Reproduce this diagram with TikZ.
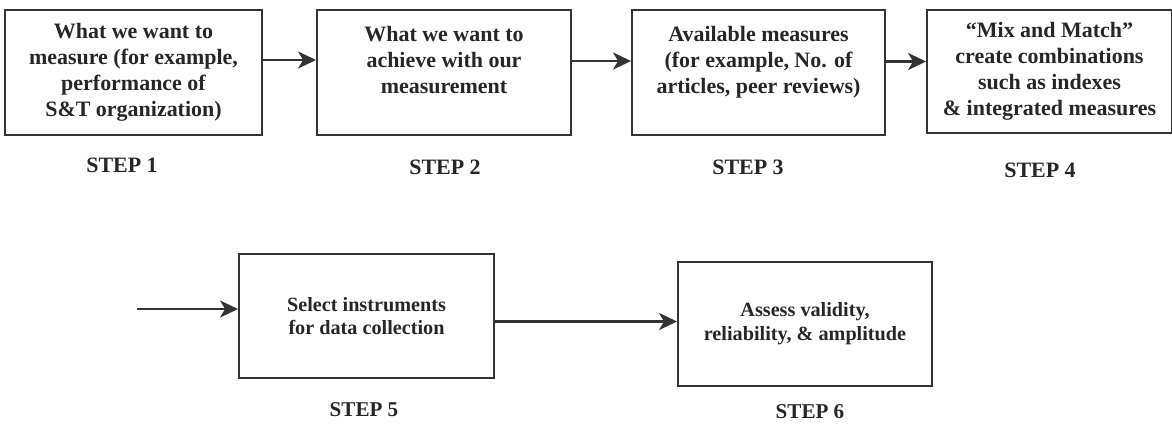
\documentclass[tikz,border=0pt]{standalone}
\usepackage{fontspec}
\setmainfont{Liberation Serif}
\usepackage{xcolor}
\usetikzlibrary{arrows.meta, positioning, calc}
\definecolor{inkgray}{HTML}{262626}
\definecolor{linegray}{HTML}{333333}

\begin{document}
\begin{tikzpicture}[
  x=0.02cm, y=-0.02cm,
  box/.style={rectangle, draw=linegray, line width=1.1pt, inner sep=2pt,
    minimum width=#1, minimum height=2.5cm, align=center, text=inkgray,
    font=\fontsize{12.5}{14.8}\selectfont\bfseries},
  lowbox/.style={box=#1, minimum height=2.48cm,
    font=\fontsize{11.5}{13.5}\selectfont\bfseries},
  steplabel/.style={text=inkgray, font=\fontsize{12.5}{14}\selectfont\bfseries},
  flow/.style={-{Stealth[length=3.6mm, width=3.4mm, inset=1mm]}, line width=1.3pt, linegray},
]
  \useasboundingbox (0,0) rectangle (1172,424);

  % top row
  \node[box=5.14cm] (what) at (133.5,72.5) {What we want to\\measure (for example,\\performance of\\S\&T organization)};
  \node[box=5.08cm] (goal) at (444,72.5) {What we want to\\achieve with our\\measurement\\\mbox{}};
  \node[box=5.06cm] (avail) at (758.5,72.5) {Available measures\\(for example, No. of\\articles, peer reviews)\\\mbox{}};
  \node[box=4.9cm, minimum height=2.46cm] (mix) at (1049.5,71.5) {``Mix and Match''\\create combinations\\such as indexes\\\& integrated measures};

  \node[steplabel] (lab1) at (122,165) {STEP 1};
  \node[steplabel] (lab2) at (445,167) {STEP 2};
  \node[steplabel] (lab3) at (748,167) {STEP 3};
  \node[steplabel] (lab4) at (1040,170) {STEP 4};

  \draw[flow] ([yshift=0.25cm]what.east) -- ([yshift=0.25cm]goal.west);
  \draw[flow] ([yshift=0.23cm]goal.east) -- ([yshift=0.23cm]avail.west);
  \draw[flow] ([yshift=0.22cm]avail.east) -- ([yshift=0.22cm]avail.east -| mix.west);

  % bottom row
  \node[lowbox=5.1cm] (select) at (366.5,316) {Select instruments\\for data collection};
  \node[lowbox=5.08cm] (assess) at (805,324) {Assess validity,\\reliability, \& amplitude};

  \node[steplabel, font=\fontsize{12}{14}\selectfont\bfseries] (lab5) at (364,410) {STEP 5};
  \node[steplabel, font=\fontsize{12}{14}\selectfont\bfseries] (lab6) at (810,412) {STEP 6};

  \coordinate (feed) at (137,309);
  \draw[flow] (feed) -- (feed -| select.west);
  \draw[flow] ([yshift=-0.11cm]select.east) -- ([yshift=-0.11cm]select.east -| assess.west);
\end{tikzpicture}
\end{document}
